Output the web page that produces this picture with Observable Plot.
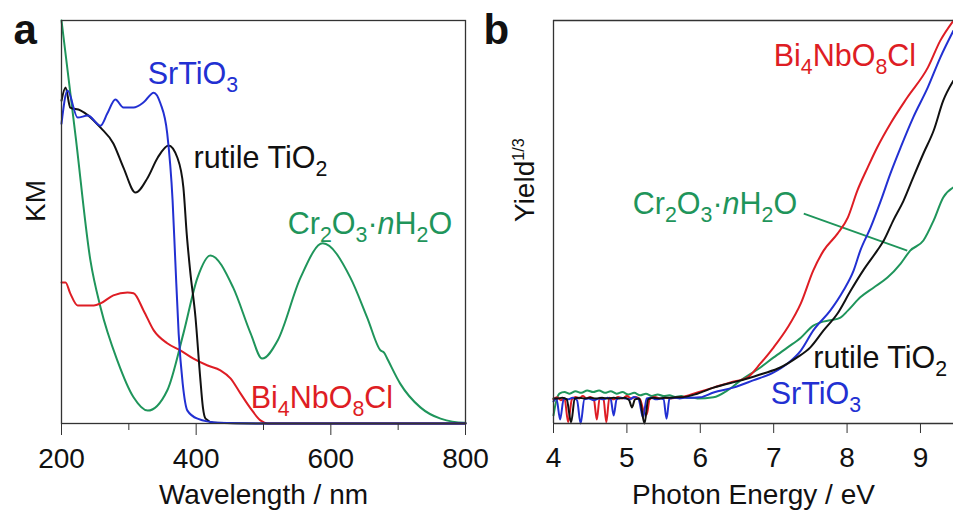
<!DOCTYPE html>
<html>
<head>
<meta charset="utf-8">
<script src="https://cdn.jsdelivr.net/npm/d3@7"></script>
<script src="https://cdn.jsdelivr.net/npm/@observablehq/plot@0.6"></script>
<style>
  html, body { margin: 0; padding: 0; background: #fff; }
  #wrap { display: flex; flex-direction: row; width: 953px; height: 514px; overflow: hidden; background: #fff; }
  #wrap svg { display: block; flex: none; }
</style>
</head>
<body>
<div id="wrap"></div>
<script>
// ---------- Panel a: Kubelka–Munk spectra (wavelength nm, KM arb. units) ----------
const kmRutile = [[200,0.801],[206,0.834],[213,0.784],[228,0.777],[240,0.764],[258,0.734],[277,0.695],[292,0.635],[310,0.573],[328,0.610],[343,0.660],[359,0.690],[372,0.660],[381,0.586],[386,0.47],[391,0.38],[399,0.263],[406,0.114],[410,0.04],[414,0.012],[426,0.002],[506,0],[800,0]];
const kmSrTiO3 = [[200,0.744],[209,0.826],[224,0.759],[239,0.764],[258,0.739],[268,0.769],[280,0.804],[292,0.784],[307,0.784],[322,0.797],[337,0.821],[347,0.794],[357,0.720],[365,0.553],[369,0.404],[374,0.223],[380,0.099],[387,0.032],[402,0.012],[432,0.002],[496,0],[800,0]];
const kmBi4NbO8Cl = [[200,0.350],[206,0.350],[213,0.323],[224,0.293],[248,0.293],[258,0.298],[277,0.318],[298,0.325],[307,0.323],[322,0.280],[337,0.231],[357,0.199],[377,0.181],[396,0.161],[417,0.144],[436,0.132],[451,0.112],[466,0.074],[481,0.037],[496,0.007],[506,0],[800,0]];
const kmCr2O3 = [[200,1.0],[221,0.712],[243,0.404],[258,0.288],[283,0.156],[307,0.065],[328,0.032],[357,0.082],[381,0.223],[402,0.362],[421,0.417],[455,0.337],[481,0.223],[498,0.161],[521,0.206],[555,0.362],[588,0.447],[629,0.362],[654,0.263],[674,0.181],[679,0.176],[684,0.160],[703,0.099],[733,0.040],[763,0.012],[798,0.002],[800,0.002]];

// ---------- Panel b: photoemission yield^(1/3) vs photon energy (eV) ----------
const yieldRed = [[4.00,0.060],[4.05,0.065],[4.10,0.058],[4.15,0.062],[4.20,0.003],[4.25,0.060],[4.30,0.066],[4.35,0.062],[4.40,0.068],[4.45,0.062],[4.50,0.066],[4.55,0.060],[4.59,0.010],[4.63,0.064],[4.68,0.062],[4.72,0.003],[4.76,0.064],[4.82,0.060],[4.88,0.066],[4.94,0.062],[5.00,0.068],[5.06,0.062],[5.12,0.066],[5.18,0.060],[5.23,0.030],[5.27,0.022],[5.31,0.060],[5.38,0.066],[5.45,0.062],[5.52,0.064],[5.60,0.062],[5.67,0.064],[5.73,0.065],[5.96,0.077],[6.18,0.089],[6.41,0.102],[6.64,0.114],[6.82,0.149],[7.00,0.189],[7.19,0.238],[7.37,0.298],[7.54,0.380],[7.68,0.429],[7.87,0.471],[8.01,0.511],[8.14,0.578],[8.28,0.635],[8.41,0.685],[8.59,0.744],[8.82,0.809],[9.10,0.883],[9.27,0.950],[9.45,1.0]];
const yieldBlue = [[4.00,0.055],[4.04,0.062],[4.09,0.010],[4.14,0.062],[4.20,0.060],[4.26,0.064],[4.32,0.058],[4.37,0.000],[4.42,0.060],[4.48,0.062],[4.55,0.058],[4.62,0.062],[4.68,0.060],[4.74,0.064],[4.78,0.060],[4.82,0.020],[4.86,0.060],[4.92,0.064],[4.98,0.062],[5.04,0.060],[5.10,0.066],[5.16,0.060],[5.22,0.015],[5.27,0.062],[5.33,0.064],[5.40,0.060],[5.46,0.062],[5.50,0.060],[5.54,0.012],[5.58,0.062],[5.65,0.064],[5.72,0.062],[5.80,0.064],[5.90,0.064],[6.00,0.065],[6.18,0.077],[6.45,0.089],[6.72,0.107],[7.00,0.127],[7.19,0.149],[7.37,0.181],[7.54,0.231],[7.77,0.280],[7.95,0.330],[8.09,0.380],[8.18,0.429],[8.32,0.486],[8.46,0.553],[8.59,0.620],[8.73,0.685],[8.90,0.759],[9.10,0.834],[9.27,0.908],[9.45,0.975]];
const yieldBlack = [[4.00,0.062],[4.06,0.062],[4.12,0.064],[4.18,0.060],[4.24,0.003],[4.29,0.062],[4.35,0.064],[4.42,0.062],[4.50,0.064],[4.58,0.062],[4.66,0.064],[4.74,0.062],[4.82,0.064],[4.90,0.062],[4.97,0.064],[5.03,0.058],[5.07,0.040],[5.11,0.060],[5.17,0.062],[5.24,0.000],[5.29,0.060],[5.36,0.064],[5.44,0.062],[5.52,0.064],[5.60,0.064],[5.67,0.065],[5.73,0.065],[5.96,0.074],[6.18,0.089],[6.55,0.107],[6.86,0.124],[7.09,0.139],[7.32,0.164],[7.50,0.189],[7.68,0.231],[7.87,0.273],[8.05,0.330],[8.22,0.380],[8.41,0.429],[8.50,0.454],[8.63,0.504],[8.77,0.553],[8.90,0.610],[9.04,0.670],[9.18,0.727],[9.31,0.801],[9.45,0.851]];
const yieldGreen = [[4.00,0.020],[4.03,0.050],[4.08,0.074],[4.15,0.078],[4.22,0.074],[4.30,0.080],[4.38,0.076],[4.46,0.082],[4.54,0.078],[4.62,0.082],[4.70,0.076],[4.78,0.080],[4.86,0.074],[4.94,0.078],[5.02,0.072],[5.10,0.076],[5.18,0.070],[5.26,0.074],[5.34,0.068],[5.42,0.072],[5.50,0.068],[5.58,0.070],[5.66,0.066],[5.74,0.068],[5.82,0.064],[5.90,0.064],[5.96,0.062],[6.18,0.065],[6.37,0.082],[6.55,0.107],[6.82,0.139],[7.00,0.164],[7.19,0.189],[7.37,0.213],[7.54,0.243],[7.64,0.251],[7.77,0.256],[7.91,0.263],[8.01,0.280],[8.18,0.313],[8.36,0.337],[8.55,0.362],[8.73,0.397],[8.86,0.429],[9.04,0.454],[9.18,0.504],[9.31,0.561],[9.45,0.586]];

// ---------- Labels (text, anchor in data units) ----------
const labelNames = ["rutile", "srtio3", "bi4nbo8cl", "cr2o3"];
const labelTexts = ["rutile TiO_2", "SrTiO_3", "Bi_4NbO_8Cl", "Cr_2O_3·*n*H_2O"];
const labelAnchorA = [[396, 0.658], [328, 0.867], [481, 0.063], [536, 0.495]];
const labelAnchorB = [[7.54, 0.162], [6.96, 0.073], [7.0, 0.911], [5.08, 0.544]];
const leaderB = [[7.41, 0.521, 8.82, 0.429]]; // Cr2O3 leader line in panel b

const COLORS = {rutile: "#111111", srtio3: "#2230d2", bi4nbo8cl: "#de1d24", cr2o3: "#1f955b"};
const FONT = "'Liberation Sans', Arial, Helvetica, sans-serif";

const seriesA = {rutile: kmRutile, srtio3: kmSrTiO3, bi4nbo8cl: kmBi4NbO8Cl, cr2o3: kmCr2O3};
const seriesB = {rutile: yieldBlack, srtio3: yieldBlue, bi4nbo8cl: yieldRed, cr2o3: yieldGreen};
const drawOrderA = ["cr2o3", "bi4nbo8cl", "rutile", "srtio3"];
const drawOrderB = ["cr2o3", "bi4nbo8cl", "srtio3", "rutile"];

function labelMarks(anchors) {
  return labelNames.map((n, i) => Plot.text([{x: anchors[i][0], y: anchors[i][1], t: labelTexts[i]}], {
    x: "x", y: "y", text: "t", fill: COLORS[n], textAnchor: "start", fontSize: 30.5
  }));
}

const plotA = Plot.plot({
  width: 480, height: 514,
  marginLeft: 61, marginRight: 15, marginTop: 20, marginBottom: 91,
  x: {domain: [200, 800]},
  y: {domain: [0, 1], axis: null},
  style: {fontFamily: FONT, fontSize: "28px", color: "#111", background: "transparent", overflow: "visible"},
  marks: [
    ...drawOrderA.map(n => Plot.line(seriesA[n], {x: d => d[0], y: d => d[1], stroke: COLORS[n], strokeWidth: 2, curve: "monotone-x"})),
    Plot.frame({stroke: "#333", strokeWidth: 1.3}),
    Plot.axisX([200, 400, 600, 800], {tickSize: 12, tickPadding: 13, label: null, stroke: "#333"}),
    Plot.axisX([300, 500, 700], {tickSize: 7, tickFormat: () => "", label: null, stroke: "#333"}),
    Plot.text(["Wavelength / nm"], {text: d => d, frameAnchor: "bottom", lineAnchor: "middle", dy: 72, fontSize: 28}),
    Plot.text(["KM"], {text: d => d, frameAnchor: "left", lineAnchor: "middle", rotate: -90, dx: -25, fontSize: 28}),
    Plot.text(["a"], {text: d => d, frameAnchor: "top-left", lineAnchor: "middle", textAnchor: "start", dx: -48, dy: 9.6, fontSize: 42, fontWeight: "bold"}),
    ...labelMarks(labelAnchorA)
  ]
});

const plotB = Plot.plot({
  width: 473, height: 514,
  marginLeft: 73, marginRight: 0, marginTop: 20, marginBottom: 91,
  x: {domain: [4, 9.45]},
  y: {domain: [0, 1], axis: null},
  style: {fontFamily: FONT, fontSize: "28px", color: "#111", background: "transparent", overflow: "visible"},
  marks: [
    Plot.link(leaderB, {x1: d => d[0], y1: d => d[1], x2: d => d[2], y2: d => d[3], stroke: COLORS.cr2o3, strokeWidth: 1.8}),
    ...drawOrderB.map(n => Plot.line(seriesB[n], {x: d => d[0], y: d => d[1], stroke: COLORS[n], strokeWidth: 2, curve: "monotone-x"})),
    Plot.ruleX([4], {stroke: "#333", strokeWidth: 1.3}),
    Plot.ruleY([0, 1], {stroke: "#333", strokeWidth: 1.3}),
    Plot.axisX([4, 5, 6, 7, 8, 9], {tickSize: 10, tickPadding: 14, label: null, stroke: "#333"}),
    Plot.text(["Photon Energy / eV"], {text: d => d, frameAnchor: "bottom", lineAnchor: "middle", dy: 72, fontSize: 28}),
    Plot.text(["Yield^{1/3}"], {text: d => d, frameAnchor: "left", lineAnchor: "middle", rotate: -90, dx: -28, fontSize: 28}),
    Plot.text(["b"], {text: d => d, frameAnchor: "top-left", lineAnchor: "middle", textAnchor: "start", dx: -70, dy: 9.6, fontSize: 42, fontWeight: "bold"}),
    ...labelMarks(labelAnchorB)
  ]
});

const wrap = document.getElementById("wrap");
wrap.appendChild(plotA);
wrap.appendChild(plotB);

// Turn simple markup (_x sub, ^{..} sup, *..* italic) into SVG tspans
function richify(root) {
  const ns = "http://www.w3.org/2000/svg";
  root.querySelectorAll("text").forEach(t => {
    const s = t.textContent;
    if (!/[_^*]/.test(s)) return;
    const fs = parseFloat(getComputedStyle(t).fontSize) || 29;
    t.textContent = "";
    let shift = 0, last = 0, m;
    const re = /_\{([^}]*)\}|_(.)|\^\{([^}]*)\}|\^(.)|\*([^*]+)\*/g;
    const add = (str, o) => {
      const ts = document.createElementNS(ns, "tspan");
      ts.textContent = str;
      const target = o.shift || 0;
      const dy = target - shift;
      if (dy) ts.setAttribute("dy", dy.toFixed(2));
      shift = target;
      if (o.size) ts.setAttribute("font-size", o.size.toFixed(2));
      if (o.italic) ts.setAttribute("font-style", "italic");
      t.appendChild(ts);
    };
    while ((m = re.exec(s))) {
      if (m.index > last) add(s.slice(last, m.index), {});
      if (m[1] != null || m[2] != null) add(m[1] ?? m[2], {shift: 0.27 * fs, size: 0.7 * fs});
      else if (m[3] != null || m[4] != null) add(m[3] ?? m[4], {shift: -0.36 * fs, size: 0.58 * fs});
      else add(m[5], {italic: true});
      last = re.lastIndex;
    }
    if (last < s.length) add(s.slice(last), {});
  });
}
richify(plotA);
richify(plotB);
</script>
</body>
</html>
